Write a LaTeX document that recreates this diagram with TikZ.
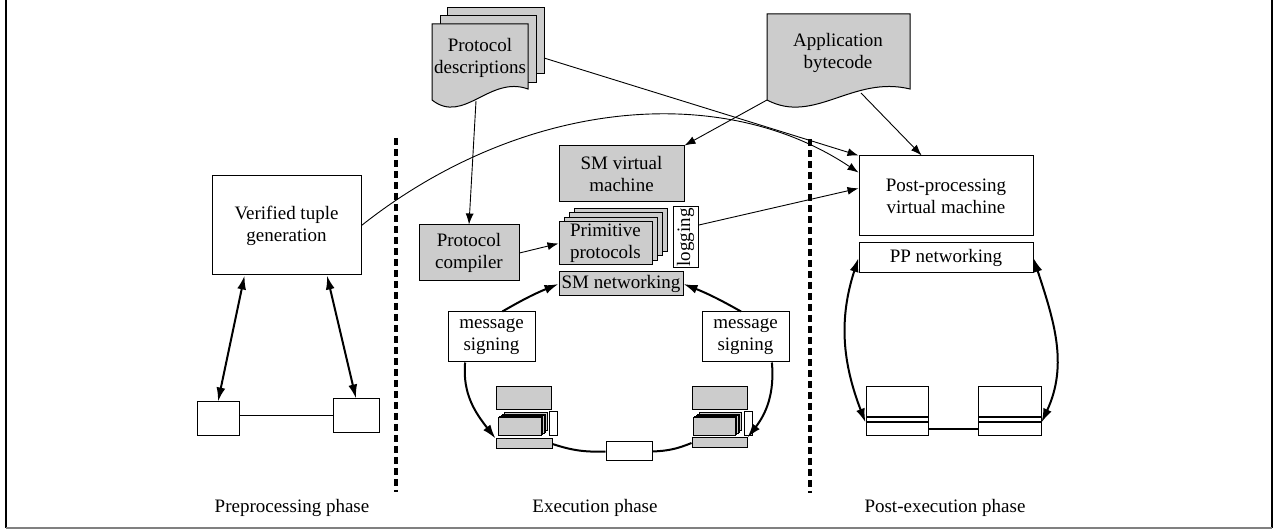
\documentclass[tikz,border=0pt]{standalone}
\usepackage{fontspec}
\setmainfont{Liberation Serif}
\usetikzlibrary{arrows.meta,calc}
\definecolor{smgray}{RGB}{204,204,204}

\begin{document}
\begin{tikzpicture}[x=0.5pt,y=-0.5pt,
  font=\fontsize{9.5}{11}\selectfont,
  box/.style={draw, fill=white, inner sep=0pt, align=center, line width=0.5pt},
  gbox/.style={box, fill=smgray},
  doclabel/.style={align=center, inner sep=0pt},
  link/.style={-{Latex[length=5.5pt,width=4pt]}, line width=0.45pt},
  ring/.style={line width=1pt},
  ringarrow/.style={ring, -{Latex[length=7pt,width=4.5pt]}},
  twoway/.style={ring, {Latex[length=7pt,width=4.5pt]}-{Latex[length=7pt,width=4.5pt]}},
  separator/.style={line width=2.2pt, dash pattern=on 3.5pt off 2pt}]
\useasboundingbox (0,0) rectangle (1276,529);

% Frame
\draw[line width=0.6pt] (6,0) -- (6,528);
\draw[line width=0.6pt] (1272,0) -- (1272,528);
\draw[line width=0.6pt, gray] (6,528) -- (1272,528);

% Phase separators
\draw[separator] (396,138) -- (396,492);
\draw[separator] (810,139) -- (810,493);

% Input documents
\draw[fill=smgray, line width=0.5pt] (447,8) rectangle (544,74);
\draw[fill=smgray, line width=0.5pt] (440,16) rectangle (536,83);
\draw[fill=smgray, line width=0.5pt] (432,24) -- (528,24) -- (528,89) .. controls (489.6,75) and (463.7,125) .. (432,100) -- cycle;
\node[doclabel] (pdesc) at (480,58) {Protocol\\descriptions};
\coordinate (pdescS) at (476,101);
\coordinate (pdescE) at (544,58);

\draw[fill=smgray, line width=0.5pt] (767,14) -- (910,14) -- (910,89) .. controls (852.8,75) and (814.2,125) .. (767,100) -- cycle;
\node[doclabel] (appcode) at (838,53) {Application\\bytecode};
\coordinate (appSW) at (767,100);
\coordinate (appS) at (861,93);

% Preprocessing phase
\node[box, minimum width=74.5pt, minimum height=49.5pt] (vtg) at (286.5,225.5) {Verified tuple\\generation};
\node[box, minimum width=21pt, minimum height=17pt] (pre1) at (218,419) {};
\node[box, minimum width=23pt, minimum height=17pt] (pre2) at (356,416) {};

% Execution phase
\node[gbox, minimum width=50pt, minimum height=28pt] (compiler) at (469,253) {Protocol\\compiler};
\node[gbox, minimum width=62.5pt, minimum height=28pt] (smvm) at (621.5,174) {SM virtual\\machine};
\foreach \k in {3,2,1}
  \node[gbox, minimum width=46.5pt, minimum height=21.5pt] (prim\k) at (605.5+5*\k,243.5-4.5*\k) {};
\node[gbox, minimum width=46.5pt, minimum height=21.5pt] (prim) at (605.5,243.5) {Primitive\\protocols};
\node[box, rotate=90, minimum width=30.5pt, minimum height=12.5pt] (logging) at (685.5,237.5) {logging};
\node[gbox, minimum width=62pt, minimum height=12pt] (smnet) at (621,284) {SM networking};
\node[box, minimum width=43.5pt, minimum height=25pt] (msgL) at (491.5,337) {message\\signing};
\node[box, minimum width=43.5pt, minimum height=25pt] (msgR) at (745.5,337) {message\\signing};

% Execution nodes
\node[gbox, minimum width=27.5pt, minimum height=11.5pt] (lmon) at (523.5,398.5) {};
\foreach \k in {4,3,2,1}
  \node[gbox, minimum width=21.5pt, minimum height=9pt] (lstack\k) at (519.5+1.5*\k,427-1.3*\k) {};
\node[gbox, minimum width=21.5pt, minimum height=9pt] (lstack) at (519.5,427) {};
\node[box, minimum width=4pt, minimum height=12pt] (llog) at (553,424) {};
\node[gbox, minimum width=28pt, minimum height=5pt] (lbar) at (524,444) {};

\node[gbox, minimum width=27.5pt, minimum height=11.5pt] (rmon) at (719.5,398.5) {};
\foreach \k in {4,3,2,1}
  \node[gbox, minimum width=21pt, minimum height=9pt] (rstack\k) at (714+1.5*\k,427-1.3*\k) {};
\node[gbox, minimum width=21pt, minimum height=9pt] (rstack) at (714,427) {};
\node[box, minimum width=4pt, minimum height=12pt] (rlog) at (748,424) {};
\node[gbox, minimum width=27.5pt, minimum height=5pt] (rbar) at (719.5,443) {};

\node[box, minimum width=23pt, minimum height=9.5pt] (mid) at (629,451.5) {};

% Post-execution phase
\node[box, minimum width=87pt, minimum height=40pt] (ppvm) at (946,196) {Post-processing\\virtual machine};
\node[box, minimum width=87pt, minimum height=15pt] (ppnet) at (946,258) {PP networking};
\node[box, minimum width=31pt, minimum height=15pt] (plmon) at (897,402) {};
\node[box, minimum width=31pt, minimum height=2pt] (plstrip) at (897,420) {};
\node[box, minimum width=31pt, minimum height=6.5pt] (plbar) at (897,429.5) {};
\node[box, minimum width=31.5pt, minimum height=15pt] (prmon) at (1009.5,402) {};
\node[box, minimum width=31.5pt, minimum height=2pt] (prstrip) at (1009.5,420) {};
\node[box, minimum width=31.5pt, minimum height=6.5pt] (prbar) at (1009.5,429.5) {};

% Phase labels
\node (prephase) at (292,508) {Preprocessing phase};
\node (exphase) at (595,508) {Execution phase};
\node (postphase) at (945,508) {Post-execution phase};

% Data flow
\draw[link] (pdescS) -- (compiler.north);
\draw[link] (pdescE) -- (ppvm.north west);
\draw[link] (vtg.east) .. controls (520,100) and (720,80) .. (ppvm.165);
\draw[link] (appSW) -- (smvm.north east);
\draw[link] (appS) -- (ppvm.121);
\draw[link] ($(logging.south)!0.4!(logging.south east)$) -- (ppvm.175);
\draw[link] (compiler.east) -- (prim.west);

% Networks
\draw[twoway] (vtg.230) -- (pre1.north);
\draw[twoway] (vtg.309) -- (pre2.north);
\draw[line width=0.5pt] (pre1.east |- pre2.west) -- (pre2.west);

\draw[ringarrow] (msgL.67) to[bend left=4] (smnet.west);
\draw[ringarrow] (msgR.100) to[bend right=4] (smnet.east);
\draw[ringarrow] (msgL.224) to[out=-95,in=128] (lbar.north west);
\draw[ringarrow] (msgR.316) to[out=-85,in=52] (rbar.north east);
\draw[ring] (lbar.east) to[bend right=10] (mid.west);
\draw[ring] (mid.east) to[bend right=10] (rbar.west);

\draw[twoway] (ppnet.west) to[out=-108,in=111] (plbar.north west);
\draw[twoway] (ppnet.east) to[out=-72,in=65] (prbar.north east);
\draw[ring] (plbar.east) -- (prbar.west);

\end{tikzpicture}
\end{document}
